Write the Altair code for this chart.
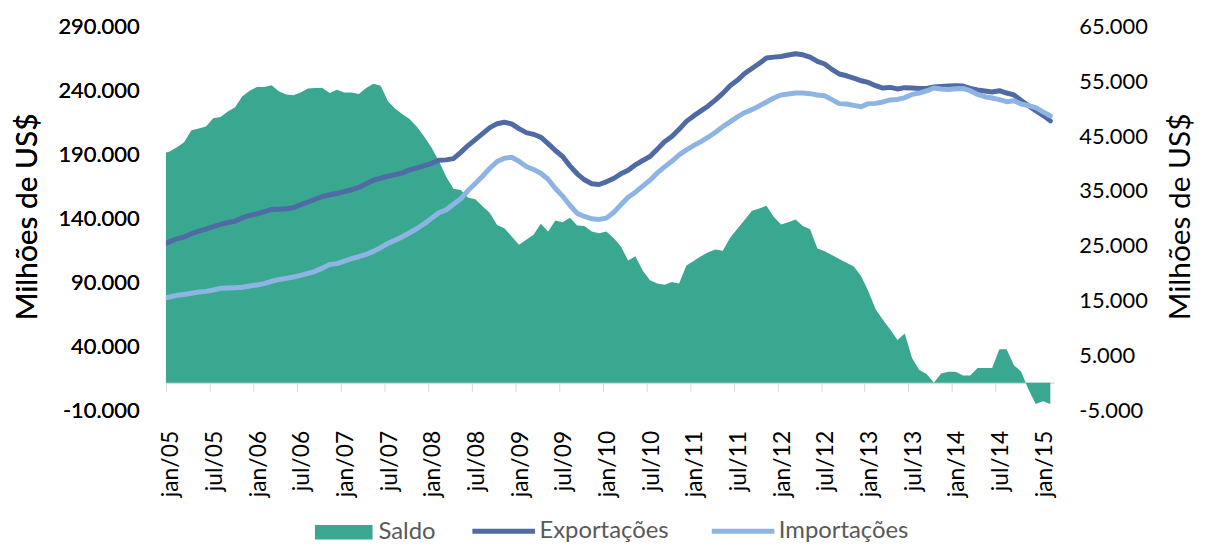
import altair as alt
import pandas as pd

# ---------------- data ----------------
month_names = ["jan", "fev", "mar", "abr", "mai", "jun", "jul", "ago", "set", "out", "nov", "dez"]
# dez/04 (partly visible at the left edge) .. fev/15
months = ["dez/04"] + [f"{m}/{y:02d}" for y in range(5, 16) for m in month_names][:122]
month_index = list(range(-1, 122))

saldo = [
    41800, 42200, 43000, 43900, 46100, 46400, 46800, 48300, 48500, 49500, 50300,
    52300, 53300, 54000, 54000, 54300, 53200, 52600, 52500, 53000, 53700, 53800,
    53800, 52900, 53500, 53000, 53000, 52700, 53800, 54600, 54200, 51400, 50000,
    49000, 48100, 46700, 44900, 42900, 40500, 37600, 35400, 35200, 33800, 33500,
    32200, 31000, 28800, 28200, 26700, 25200, 26100, 27000, 29000, 27600, 29600,
    29300, 30100, 28700, 28600, 27600, 27300, 27600, 26400, 24900, 22300, 23100,
    20500, 18700, 18100, 17900, 18400, 18100, 21400, 22200, 23100, 23800, 24300,
    24100, 26400, 28100, 29700, 31400, 31800, 32300, 30300, 28900, 29300, 29800,
    28600, 28000, 24500, 24000, 23300, 22600, 21900, 21200, 19500, 16700, 13400,
    11500, 9700, 7800, 9000, 4500, 2300, 1600, 0, 1700, 2000, 2000,
    1300, 1300, 2700, 2700, 2700, 6100, 6100, 3200, 2000, -1250, -3900,
    -3400, -3900,
]

exportacoes = [
    119000, 121800, 124100, 125400, 128000, 130000, 131600, 133500, 135300, 136800, 137800,
    140500, 142300, 143600, 145200, 147000, 147200, 147500, 148300, 150700, 152700, 155000,
    157100, 158500, 159500, 161000, 162400, 164200, 167100, 169900, 171400, 173000, 174300,
    175600, 178000, 179500, 181300, 183100, 185500, 185800, 186800, 191700, 197000, 201700,
    206300, 211000, 214100, 215200, 213900, 210200, 207100, 205800, 203500, 198500, 193100,
    188400, 181100, 174900, 170200, 167100, 166500, 168600, 171200, 174900, 177700, 181900,
    185300, 188400, 194100, 199900, 204000, 209700, 215900, 220200, 224100, 228000, 232700,
    237800, 243800, 248000, 253400, 257300, 261200, 265500, 266200, 266700, 267800, 268800,
    268000, 266200, 262800, 260800, 256600, 253000, 251600, 249800, 247700, 246400, 243800,
    242000, 242500, 241300, 242300, 242000, 241700, 241700, 242800, 243300, 243600, 243800,
    243600, 241700, 240500, 239700, 238900, 239900, 238100, 236600, 232300, 228200, 224300,
    220600, 216300,
]

importacoes = [
    77500, 78500, 79800, 80400, 81400, 82400, 82900, 84000, 85300, 85500, 85800,
    86100, 87100, 87900, 89000, 90800, 92100, 93100, 94100, 95400, 97000, 98600,
    101100, 104000, 104600, 106600, 108500, 110000, 111800, 114200, 117100, 120400, 123000,
    125700, 128800, 132100, 135800, 140200, 144400, 146700, 151100, 155300, 161800, 167300,
    173000, 179200, 184500, 187100, 187800, 184700, 180600, 178200, 175300, 170600, 163400,
    157400, 150300, 143900, 141500, 139700, 139200, 140200, 144600, 150700, 156600, 160500,
    165200, 169900, 175600, 180300, 184700, 189700, 193600, 197000, 200100, 203500, 207400,
    211800, 215500, 219400, 222700, 225100, 228000, 231100, 234200, 236600, 237300, 238100,
    238100, 237600, 236600, 236000, 232900, 229800, 229500, 228400, 227400, 229800, 230000,
    231100, 232700, 233100, 234500, 237000, 238100, 239700, 242000, 241300, 240900, 241500,
    241700, 239900, 237000, 235200, 234200, 232900, 231300, 232100, 229500, 228200, 226600,
    223300, 220200,
]

x_tick_labels = [
    "jan/05", "jul/05", "jan/06", "jul/06", "jan/07", "jul/07", "jan/08", "jul/08",
    "jan/09", "jul/09", "jan/10", "jul/10", "jan/11", "jul/11", "jan/12", "jul/12",
    "jan/13", "jul/13", "jan/14", "jul/14", "jan/15",
]
left_tick_values = [-10000, 40000, 90000, 140000, 190000, 240000, 290000]
left_tick_labels = ["-10.000", "40.000", "90.000", "140.000", "190.000", "240.000", "290.000"]
right_tick_values = [-5000, 5000, 15000, 25000, 35000, 45000, 55000, 65000]
right_tick_labels = ["-5.000", "5.000", "15.000", "25.000", "35.000", "45.000", "55.000", "65.000"]

series_names = ["Saldo", "Exportações", "Importações"]
colors = ["#3AA891", "#4F6AA5", "#8EB4E3"]

# ---------------- tables ----------------
df_saldo = pd.DataFrame({"idx": month_index, "mes": months, "valor": saldo, "serie": series_names[0]})
df_exp = pd.DataFrame({"idx": month_index, "mes": months, "valor": exportacoes, "serie": series_names[1]})
df_imp = pd.DataFrame({"idx": month_index, "mes": months, "valor": importacoes, "serie": series_names[2]})

FONT = "Lato"
W, H = 894, 386


def js_list(items):
    return "[" + ",".join("'" + s + "'" for s in items) + "]"


x_tick_vals = [-0.5 + 6 * j for j in range(len(x_tick_labels))]
x_axis = alt.Axis(
    values=x_tick_vals,
    labelExpr=js_list(x_tick_labels) + "[round((datum.value + 0.5) / 6)]",
    labelAngle=270, labelAlign="right", labelBaseline="middle",
    labelPadding=39, labelOffset=5,
    labelFont=FONT, labelFontSize=23, labelColor="#000000",
    domainColor="#D9D9D9", domainWidth=1.5,
    tickColor="#D9D9D9", tickSize=9, tickWidth=1,
    offset=-27.6, grid=False, title=None,
)
x_enc = alt.X("idx:Q", scale=alt.Scale(domain=[-0.5, 121.5], nice=False, zero=False), axis=x_axis)

right_axis = alt.Axis(
    orient="right", values=right_tick_values,
    labelExpr=js_list(right_tick_labels) + "[indexof(" + str(right_tick_values) + ", datum.value)]",
    domain=False, ticks=False, grid=False, labelPadding=25,
    labelFont=FONT, labelFontSize=22, labelColor="#000000",
    title="Milhões de US$", titleFont=FONT, titleFontSize=30, titleFontWeight="normal",
    titleColor="#000000", titleAngle=270, titleX=127, titleY=191,
    titleAlign="center", titleBaseline="middle",
)
left_axis = alt.Axis(
    orient="left", values=left_tick_values,
    labelExpr=js_list(left_tick_labels) + "[indexof(" + str(left_tick_values) + ", datum.value)]",
    domain=False, ticks=False, grid=False, labelPadding=27,
    labelFont=FONT, labelFontSize=22, labelColor="#000000",
    title="Milhões de US$", titleFont=FONT, titleFontSize=30, titleFontWeight="normal",
    titleColor="#000000", titleAngle=270, titleX=-139, titleY=191,
    titleAlign="center", titleBaseline="middle",
)

area = alt.Chart(df_saldo).mark_area(clip=True, interpolate="linear").encode(
    x=x_enc,
    y=alt.Y("valor:Q", scale=alt.Scale(domain=[-5000, 65000], nice=False, zero=False), axis=right_axis),
    y2=alt.datum(0),
    fill=alt.Fill(
        "serie:N",
        scale=alt.Scale(domain=series_names[:1], range=colors[:1]),
        legend=alt.Legend(
            orient="none", legendX=150, legendY=480, direction="horizontal", title=None,
            symbolType="M-1,-0.25H1V0.25H-1Z", symbolSize=3364, symbolStrokeWidth=0,
            symbolOpacity=1, labelFont=FONT, labelFontSize=24, labelColor="#595959",
            labelOffset=6,
        ),
    ),
)

line_scale = alt.Scale(domain=series_names[1:], range=colors[1:])
line_legend = alt.Legend(
    orient="none", legendX=306, legendY=474, direction="horizontal", title=None,
    symbolType="stroke", symbolSize=3969, symbolStrokeWidth=5,
    labelFont=FONT, labelFontSize=24, labelColor="#595959",
    labelOffset=2, columnPadding=32,
)
y_left = alt.Y("valor:Q", scale=alt.Scale(domain=[-10000, 290000], nice=False, zero=False), axis=left_axis)

line_exp = alt.Chart(df_exp).mark_line(clip=True, strokeWidth=5, strokeCap="round", strokeJoin="round").encode(
    x=x_enc, y=y_left,
    stroke=alt.Stroke("serie:N", scale=line_scale, legend=line_legend),
)
line_imp = alt.Chart(df_imp).mark_line(clip=True, strokeWidth=5, strokeCap="round", strokeJoin="round").encode(
    x=x_enc, y=y_left,
    stroke=alt.Stroke("serie:N", scale=line_scale, legend=line_legend),
)

chart = (
    alt.layer(area, line_exp, line_imp)
    .resolve_scale(y="independent")
    .properties(
        width=W, height=H,
        autosize=alt.AutoSizeParams(type="none"),
        padding={"left": 159, "top": 17, "right": 144, "bottom": 136},
        background="#FFFFFF",
    )
    .configure_view(stroke=None)
)

chart.save("out.html", embed_options={"renderer": "svg", "actions": False})
